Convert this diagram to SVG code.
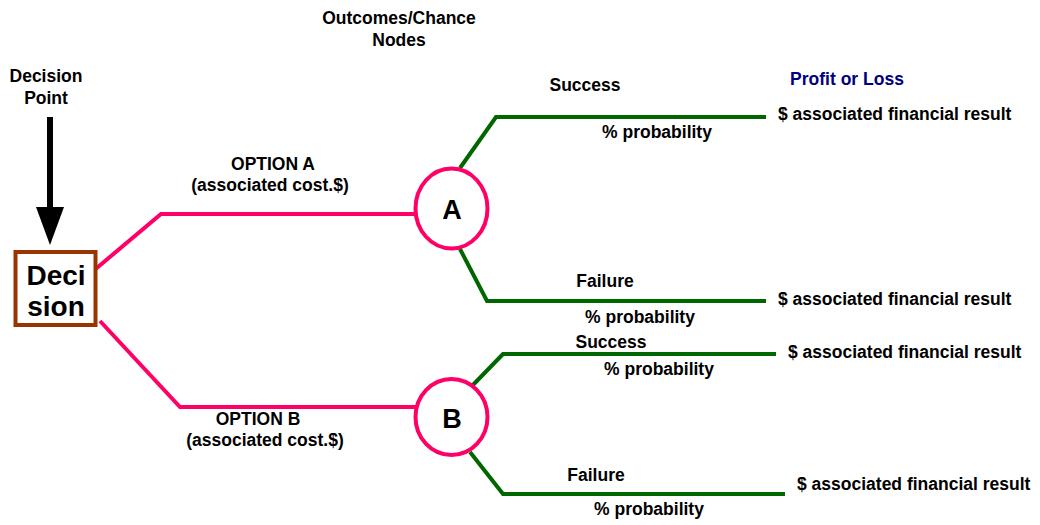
<svg xmlns="http://www.w3.org/2000/svg" width="1040" height="525" viewBox="0 0 1040 525">
<style>
text{font-family:"Liberation Sans",Arial,sans-serif;font-weight:bold;font-size:17.5px;fill:#000}
.c{text-anchor:middle}
.big{font-size:28px}
.node{font-size:27px}
.pink{fill:none;stroke:#FF0066;stroke-width:4}
.green{fill:none;stroke:#006600;stroke-width:4}
.navy{fill:#000080}
</style>
<rect width="1040" height="525" fill="#fff"/>
<g id="labels">
<text class="c" x="46" y="82">Decision</text>
<text class="c" x="46" y="104">Point</text>
<text class="c" x="399" y="24">Outcomes/Chance</text>
<text class="c" x="399" y="46">Nodes</text>
<text class="c navy" x="847" y="85">Profit or Loss</text>
</g>
<g id="connectors">
<line x1="50" y1="117" x2="50" y2="208" stroke="#000" stroke-width="6"/>
<polygon points="36,207 64,207 50,245" fill="#000"/>
<polyline class="pink" points="92,272 161,214 416,214"/>
<polyline class="pink" points="100,321 180,407 416,407"/>
<polyline class="green" points="460,168 496,117 766,117"/>
<polyline class="green" points="460,249 487,301 766,301"/>
<polyline class="green" points="470,388 503,354 776,354"/>
<polyline class="green" points="470,452 503,494 785,494"/>
<text class="c" x="273" y="170">OPTION A</text>
<text class="c" x="270" y="191">(associated cost.$)</text>
<text class="c" x="258" y="425">OPTION B</text>
<text class="c" x="265" y="446">(associated cost.$)</text>
<text class="c" x="585" y="91">Success</text>
<text class="c" x="657" y="138">% probability</text>
<text class="c" x="605" y="287">Failure</text>
<text class="c" x="640" y="323">% probability</text>
<text class="c" x="611" y="348">Success</text>
<text class="c" x="659" y="375">% probability</text>
<text class="c" x="596" y="481">Failure</text>
<text class="c" x="649" y="515">% probability</text>
</g>
<g id="decision">
<rect x="15.5" y="252" width="80" height="73" fill="#fff" stroke="#993300" stroke-width="4"/>
<text class="c big" x="56" y="285">Deci</text>
<text class="c big" x="56" y="316">sion</text>
</g>
<g id="nodeA">
<ellipse cx="451.5" cy="208.5" rx="36" ry="40" fill="#fff" stroke="#FF0066" stroke-width="4"/>
<text class="c node" x="452" y="219">A</text>
</g>
<g id="nodeB">
<ellipse cx="451.5" cy="417" rx="36" ry="38" fill="#fff" stroke="#FF0066" stroke-width="4"/>
<text class="c node" x="452" y="428">B</text>
</g>
<g id="resultA1"><text x="778" y="120">$ associated financial result</text></g>
<g id="resultA2"><text x="778" y="305">$ associated financial result</text></g>
<g id="resultB1"><text x="788" y="358">$ associated financial result</text></g>
<g id="resultB2"><text x="797" y="490">$ associated financial result</text></g>
</svg>
